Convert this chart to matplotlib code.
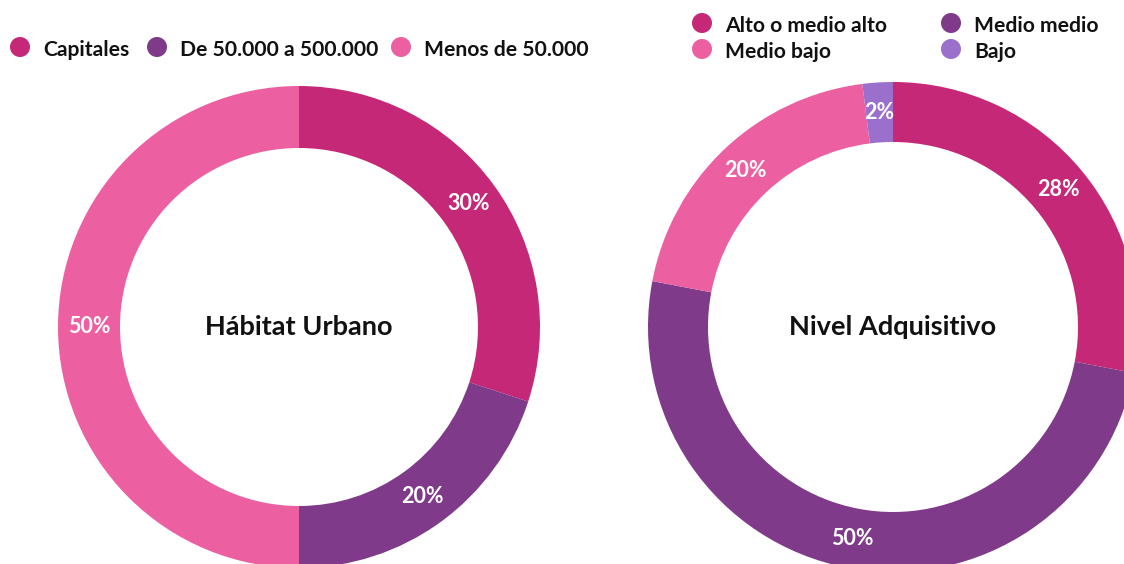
import matplotlib.pyplot as plt
from matplotlib.patches import Circle

plt.rcParams['font.family'] = ['Lato', 'DejaVu Sans']

# datos
habitat_labels = ['Capitales', 'De 50.000 a 500.000', 'Menos de 50.000']
habitat_values = [30, 20, 50]
nivel_labels = ['Alto o medio alto', 'Medio medio', 'Medio bajo', 'Bajo']
nivel_values = [28, 50, 20, 2]

magenta = '#C62878'
purple = '#803A8A'
pink = '#EC60A2'
lilac = '#9B70CC'
habitat_colors = [magenta, purple, pink]
nivel_colors = [magenta, purple, pink, lilac]

W, H = 1124, 564
fig = plt.figure(figsize=(W / 100, H / 100), dpi=100)
ax = fig.add_axes([0, 0, 1, 1])


def donut(values, colors, cx, cy, r_out, r_in, title):
    ax.pie(values, colors=colors, startangle=90, counterclock=False,
           center=(cx, H - cy), radius=r_out,
           wedgeprops=dict(width=r_out - r_in, linewidth=0),
           autopct='%d%%', pctdistance=(r_out + r_in) / 2 / r_out,
           textprops=dict(color='white', fontsize=15.5, fontweight='bold'))
    ax.text(cx, H - cy, title, ha='center', va='center',
            fontsize=19.5, fontweight='bold', color='#111111')


donut(habitat_values, habitat_colors, 299, 327, 241, 179, 'Hábitat Urbano')
donut(nivel_values, nivel_colors, 893, 327, 245, 185, 'Nivel Adquisitivo')


def legend_item(x, y, color, label):
    # y = centro del círculo; el texto va sobre su línea base
    ax.add_patch(Circle((x, H - y), 10, color=color, lw=0))
    ax.text(x + 23, H - y - 9, label, ha='left', va='baseline',
            fontsize=15.2, fontweight='bold', color='#111111')


# leyenda izquierda
for x, c, lab in zip([20, 157, 401], habitat_colors, habitat_labels):
    legend_item(x, 47, c, lab)

# leyenda derecha
pos = [(702, 23), (951, 23), (702, 49), (951, 49)]
for (x, y), c, lab in zip(pos, nivel_colors, nivel_labels):
    legend_item(x, y, c, lab)

ax.set_xlim(0, W)
ax.set_ylim(0, H)
ax.set_aspect('equal')
ax.axis('off')

fig.savefig('out.png', dpi=100, facecolor='white')
